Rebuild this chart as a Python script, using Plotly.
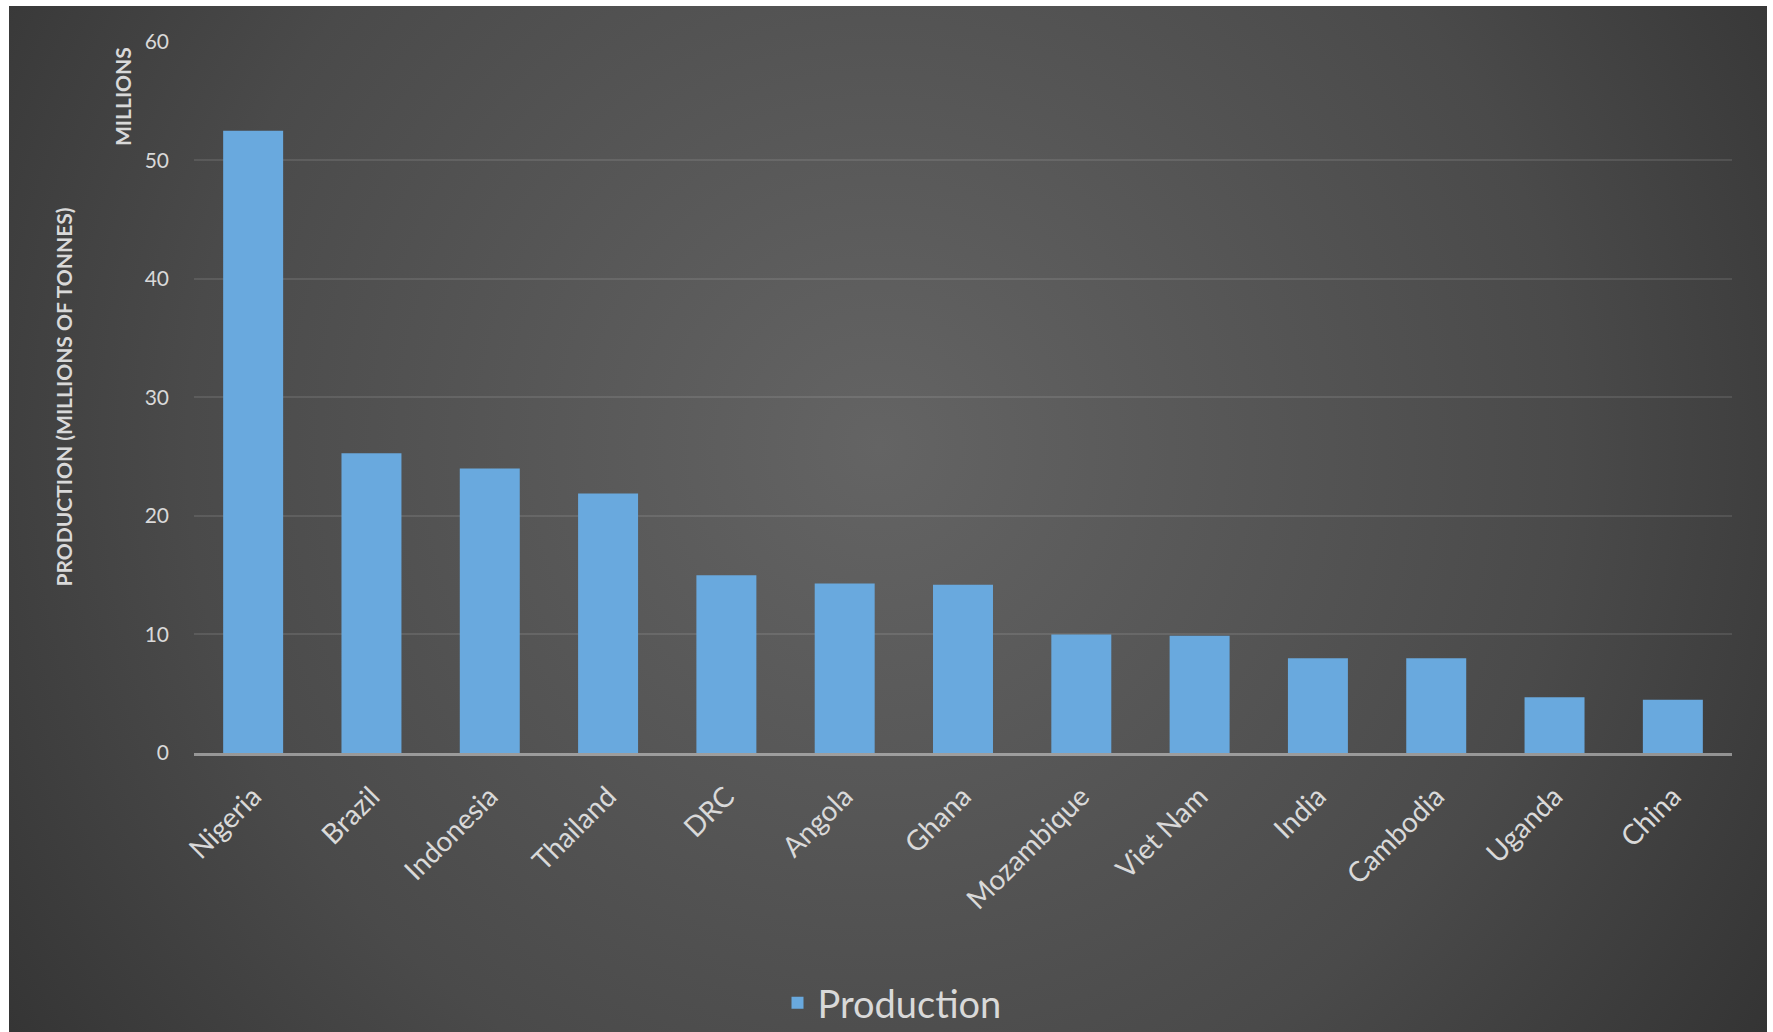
import base64
import plotly.graph_objects as go

# ---- data ----
countries = ["Nigeria", "Brazil", "Indonesia", "Thailand", "DRC", "Angola", "Ghana",
             "Mozambique", "Viet Nam", "India", "Cambodia", "Uganda", "China"]
production = [52.5, 25.3, 24.0, 21.9, 15.0, 14.3, 14.2, 10.0, 9.9, 8.0, 8.0, 4.7, 4.5]
y_ticks = [0, 10, 20, 30, 40, 50, 60]

W, H = 1773, 1032
ML, MR, MT, MB = 194, 41, 41, 279
PW, PH = W - ML - MR, H - MT - MB

# background panel (radial gradient) in pixel coords
bx0, by0, bx1, by1 = 9, 6, 1767, 1032
bw, bh = bx1 - bx0, by1 - by0
svg = (
    f'<svg xmlns="http://www.w3.org/2000/svg" width="{bw}" height="{bh}" '
    f'viewBox="0 0 {bw} {bh}" preserveAspectRatio="none"><defs>'
    f'<radialGradient id="g" gradientUnits="userSpaceOnUse" cx="870" cy="440" r="1064">'
    f'<stop offset="0" stop-color="#646464"/><stop offset="0.65" stop-color="#4a4a4a"/>'
    f'<stop offset="1" stop-color="#343434"/></radialGradient></defs>'
    f'<rect width="{bw}" height="{bh}" fill="url(#g)"/></svg>'
)
src = "data:image/svg+xml;base64," + base64.b64encode(svg.encode()).decode()

def px_to_paper_x(px):
    return (px - ML) / PW

def px_to_paper_y(py):
    return (H - MB - py) / PH

FONT = "Lato, 'Open Sans', sans-serif"

fig = go.Figure()
fig.add_trace(go.Bar(
    x=countries, y=production, name="Production",
    marker=dict(color="#69a9de", line=dict(width=0)),
    showlegend=True,
))

fig.update_layout(
    width=W, height=H,
    margin=dict(l=ML, r=MR, t=MT, b=MB, pad=0),
    paper_bgcolor="white",
    plot_bgcolor="rgba(0,0,0,0)",
    bargap=0.493,
    font=dict(family=FONT, color="#d9d9d9"),
    showlegend=True,
    legend=dict(
        orientation="h", xref="paper", yref="container",
        x=px_to_paper_x(892), y=(H - 1003) / H,
        xanchor="center", yanchor="middle",
        font=dict(size=38, color="#d9d9d9", family=FONT),
        bgcolor="rgba(0,0,0,0)",
    ),
    images=[dict(
        source=src, xref="paper", yref="paper",
        x=px_to_paper_x(bx0), y=px_to_paper_y(by0),
        sizex=bw / PW, sizey=bh / PH,
        xanchor="left", yanchor="top", sizing="stretch", layer="below",
    )],
    annotations=[dict(
        text="<b>MILLIONS</b>", xref="paper", yref="paper",
        x=px_to_paper_x(123), y=px_to_paper_y(97),
        textangle=-90, showarrow=False,
        font=dict(size=21, color="#d9d9d9", family=FONT),
        xanchor="center", yanchor="middle",
    )],
)

fig.update_xaxes(
    type="category",
    tickangle=-45,
    tickfont=dict(size=28, color="#d9d9d9", family=FONT),
    showgrid=False,
    showline=True, linecolor="rgba(217,217,217,0.55)", linewidth=3,
    ticks="", ticklabelstandoff=13,
    layer="above traces",
)
fig.update_yaxes(
    range=[0, 60.08],
    tickvals=y_ticks,
    tickfont=dict(size=21, color="#d9d9d9", family=FONT),
    showgrid=True, gridcolor="rgba(217,217,217,0.13)", gridwidth=1.5,
    zeroline=False, showline=False,
    ticks="", ticklabelstandoff=24,
    title=dict(text="<b>PRODUCTION (MILLIONS OF TONNES)</b>",
               font=dict(size=21, color="#d9d9d9", family=FONT), standoff=66),
)

fig.write_html("out.html", config={"displayModeBar": False},
               post_script="document.body.style.margin='0';")
